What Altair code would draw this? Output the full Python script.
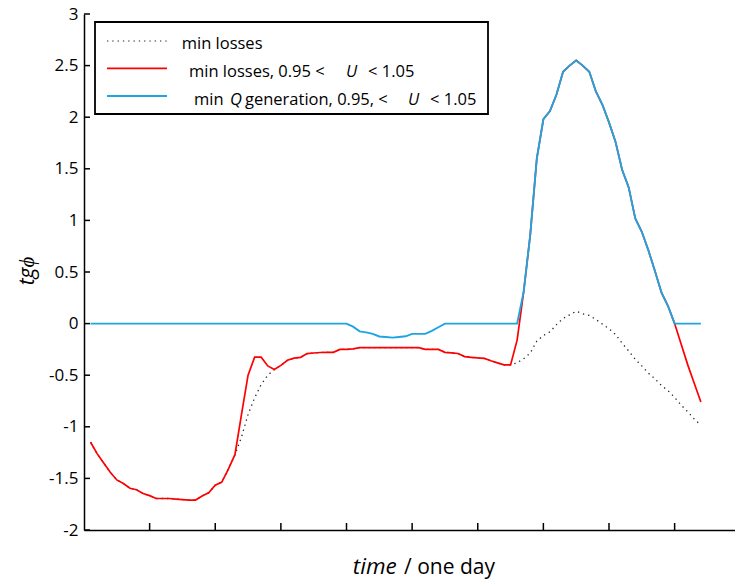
import altair as alt
import pandas as pd

# quarter-hour sample index over one day
sample = list(range(1, 95))

# tg(phi) for the unconstrained minimum-loss case
min_losses = [
    -1.15, -1.26, -1.35, -1.44, -1.515, -1.55, -1.595, -1.61, -1.647, -1.667,
    -1.695, -1.695, -1.695, -1.70, -1.705, -1.71, -1.71, -1.67, -1.64, -1.565,
    -1.535, -1.41, -1.27, -1.10, -0.88, -0.72, -0.59, -0.50, -0.445, -0.405,
    -0.355, -0.335, -0.327, -0.29, -0.285, -0.28, -0.278, -0.278, -0.25, -0.25,
    -0.245, -0.233, -0.233, -0.233, -0.233, -0.233, -0.233, -0.233, -0.233, -0.233,
    -0.233, -0.25, -0.25, -0.25, -0.278, -0.283, -0.29, -0.32, -0.327, -0.333,
    -0.337, -0.36, -0.38, -0.40, -0.40, -0.38, -0.34, -0.285, -0.17, -0.115,
    -0.08, -0.01, 0.05, 0.085, 0.12, 0.095, 0.08, 0.04, -0.005, -0.05,
    -0.105, -0.19, -0.265, -0.345, -0.41, -0.48, -0.535, -0.60, -0.65, -0.715,
    -0.79, -0.855, -0.925, -0.985,
]

# minimum losses with 0.95 < U < 1.05
min_losses_u = [
    -1.15, -1.26, -1.35, -1.44, -1.515, -1.55, -1.595, -1.61, -1.647, -1.667,
    -1.695, -1.695, -1.695, -1.70, -1.705, -1.71, -1.71, -1.67, -1.64, -1.565,
    -1.535, -1.41, -1.27, -0.88, -0.50, -0.325, -0.325, -0.41, -0.445, -0.405,
    -0.355, -0.335, -0.327, -0.29, -0.285, -0.28, -0.278, -0.278, -0.25, -0.25,
    -0.245, -0.233, -0.233, -0.233, -0.233, -0.233, -0.233, -0.233, -0.233, -0.233,
    -0.233, -0.25, -0.25, -0.25, -0.278, -0.283, -0.29, -0.32, -0.327, -0.333,
    -0.337, -0.36, -0.38, -0.40, -0.40, -0.16, 0.31, 0.86, 1.60, 1.98,
    2.06, 2.22, 2.44, 2.50, 2.55, 2.50, 2.44, 2.25, 2.12, 1.95,
    1.76, 1.49, 1.32, 1.02, 0.89, 0.71, 0.51, 0.30, 0.17, 0.0,
    -0.20, -0.40, -0.58, -0.76,
]

# minimum reactive power generation with 0.95 < U < 1.05
min_q_u = [
    0.0, 0.0, 0.0, 0.0, 0.0, 0.0, 0.0, 0.0, 0.0, 0.0,
    0.0, 0.0, 0.0, 0.0, 0.0, 0.0, 0.0, 0.0, 0.0, 0.0,
    0.0, 0.0, 0.0, 0.0, 0.0, 0.0, 0.0, 0.0, 0.0, 0.0,
    0.0, 0.0, 0.0, 0.0, 0.0, 0.0, 0.0, 0.0, 0.0, 0.0,
    -0.03, -0.075, -0.085, -0.10, -0.125, -0.13, -0.136, -0.13, -0.123, -0.10,
    -0.10, -0.10, -0.07, -0.035, 0.0, 0.0, 0.0, 0.0, 0.0, 0.0,
    0.0, 0.0, 0.0, 0.0, 0.0, 0.0, 0.31, 0.86, 1.60, 1.98,
    2.06, 2.22, 2.44, 2.50, 2.55, 2.50, 2.44, 2.25, 2.12, 1.95,
    1.76, 1.49, 1.32, 1.02, 0.89, 0.71, 0.51, 0.30, 0.17, 0.0,
    0.0, 0.0, 0.0, 0.0,
]

y_ticks = [-2, -1.5, -1, -0.5, 0, 0.5, 1, 1.5, 2, 2.5, 3]
x_ticks = [10, 20, 30, 40, 50, 60, 70, 80, 90]

W, H = 651, 516
FONT = "Open Sans"
RED = "#FF0000"
BLUE = "#1EA5E0"

xs = alt.Scale(domain=[0, 99.2], nice=False, zero=False)
ys = alt.Scale(domain=[-2, 3], nice=False, zero=False)

x_axis = alt.Axis(title=None, labels=False, ticks=False, grid=False,
                  domainColor="black", domainWidth=1.5, orient="bottom")
y_axis = alt.Axis(title=None, values=y_ticks, ticks=False, grid=False,
                  labelFont=FONT, labelFontSize=17, labelColor="black",
                  labelPadding=6, labelExpr="'' + datum.value",
                  domainColor="black", domainWidth=1.5, orient="left")

X = alt.X("t:Q", scale=xs, axis=x_axis)
Y = alt.Y("v:Q", scale=ys, axis=y_axis)


def series(values):
    return pd.DataFrame({"t": sample, "v": values})


dotted = alt.Chart(series(min_losses)).mark_line(
    color="#222222", strokeWidth=1.3, strokeDash=[1.3, 4], strokeCap="butt"
).encode(x=X, y=Y)

red = alt.Chart(series(min_losses_u)).mark_line(
    color=RED, strokeWidth=1.7
).encode(x=X, y=Y)

blue = alt.Chart(series(min_q_u)).mark_line(
    color=BLUE, strokeWidth=1.9
).encode(x=X, y=Y)

# inward-pointing tick marks
y_tick_marks = alt.Chart(pd.DataFrame({"v": y_ticks})).mark_rule(
    color="black", strokeWidth=1.5
).encode(y=Y, x=alt.value(0), x2=alt.value(6))

x_tick_marks = alt.Chart(pd.DataFrame({"t": x_ticks})).mark_rule(
    color="black", strokeWidth=1.5
).encode(x=X, y=alt.value(H), y2=alt.value(H - 7))

one = pd.DataFrame({"k": [0]})


def text(s, x, y, italic=False, size=16.5, angle=0, align="left",
         baseline="alphabetic"):
    kw = dict(font=FONT, fontSize=size, color="black", align=align,
              baseline=baseline)
    if italic:
        kw["fontStyle"] = "italic"
    if angle:
        kw["angle"] = angle
    return alt.Chart(one).mark_text(**kw).encode(
        x=alt.value(x), y=alt.value(y), text=alt.value(s)
    )


def legend_line(y, color, width, dash=None):
    kw = dict(color=color, strokeWidth=width)
    if dash:
        kw["strokeDash"] = dash
        kw["strokeCap"] = "butt"
    return alt.Chart(one).mark_rule(**kw).encode(
        x=alt.value(23), x2=alt.value(83), y=alt.value(y)
    )


legend_box = alt.Chart(one).mark_rect(
    fill="white", stroke="black", strokeWidth=1.8
).encode(x=alt.value(11), x2=alt.value(404), y=alt.value(8), y2=alt.value(100))

legend = [
    legend_box,
    legend_line(27, "#222222", 1.2, [1.3, 4]),
    legend_line(54.3, RED, 1.7),
    legend_line(82, BLUE, 1.9),
    text("min losses", 97.7, 35),
    text("min losses, 0.95 <", 105, 63.3),
    text("U", 262, 63.3, italic=True),
    text("< 1.05", 284, 63.3),
    text("min", 110, 91),
    text("Q", 146, 91, italic=True),
    text("generation, 0.95, <", 161, 91),
    text("U", 324, 91, italic=True),
    text("< 1.05", 346, 91),
]

titles = [
    text("tgϕ", -56, 257, italic=True, size=21, angle=270, align="center",
         baseline="middle"),
    text("time", 268.8, 560, italic=True, size=22.5),
    text("/ one day", 320, 560, size=21),
]

chart = alt.layer(
    dotted, red, blue, y_tick_marks, x_tick_marks, *legend, *titles
).properties(
    width=W,
    height=H,
    autosize=alt.AutoSizeParams(type="none"),
    padding={"left": 84, "top": 14, "right": 0, "bottom": 51},
).configure(
    background="white",
    view=alt.ViewConfig(stroke=None),
)

chart.save("out.html", embed_options={"renderer": "svg", "actions": False})
